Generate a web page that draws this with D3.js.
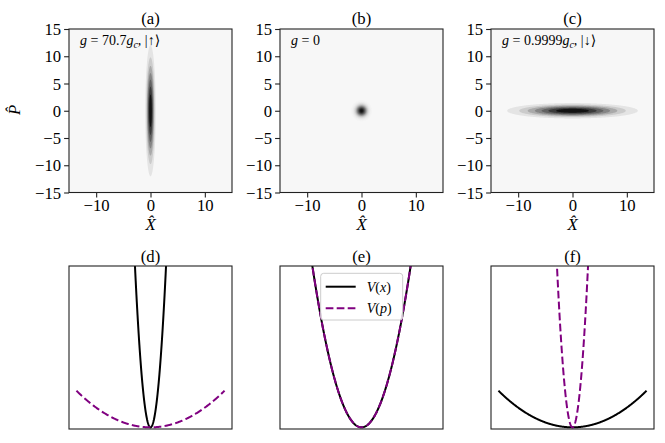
<!DOCTYPE html>
<html>
<head>
<meta charset="utf-8">
<script src="https://cdn.jsdelivr.net/npm/d3@7"></script>
<style>
  html, body { margin: 0; padding: 0; background: #ffffff; }
  svg { display: block; }
  text { font-family: "Liberation Serif", "DejaVu Serif", serif; fill: #000; }
</style>
</head>
<body>
<svg id="chart" width="665" height="443"></svg>
<script>
// ---------------- data ----------------
const topTitles = ["(a)", "(b)", "(c)"];
const bottomTitles = ["(d)", "(e)", "(f)"];
// annotation pieces: coupling value and spin state
const couplingValues = ["70.7", "0", "0.9999"];
const couplingHasGc = [true, false, true];
const spinStates = ["↑", "", "↓"];
// Gaussian Wigner-like densities: widths along X and P
const sigmaX = [0.47, 0.71, 5.9];
const sigmaP = [5.9, 0.71, 0.69];
const contourBands = [8, 40, 8];
const xTicks = [-10, 0, 10];
const yTicks = [-15, -10, -5, 0, 5, 10, 15];
const phaseDomain = [-15, 15];
// potentials: curvature of V(x) and V(p) in each lower panel
const curvVx = [100, 10, 1];
const curvVp = [1, 10, 100];
const potXRange = [-1, 1];
const potYDomain = [-0.045, 4.4];
const legendLabels = [["V", "x"], ["V", "p"]];

// ---------------- layout ----------------
const colX = [69, 280, 491];
const pw = 163;
const topY = 29, ph = 163.5;
const botY = 266, bh = 163;
const fs = 16.7;
const purple = "#800080";

const svg = d3.select("#chart");
const defs = svg.append("defs");

function label(g, x, y, str, opts = {}) {
  return g.append("text").attr("x", x).attr("y", y)
    .attr("text-anchor", opts.anchor || "middle")
    .attr("font-size", opts.size || fs)
    .attr("font-style", opts.italic ? "italic" : "normal")
    .text(str);
}

// ---------------- top row: phase-space densities ----------------
const n = 240;
topTitles.forEach((title, idx) => {
  const x0 = colX[idx];
  const g = svg.append("g");
  const xs = d3.scaleLinear().domain(phaseDomain).range([x0, x0 + pw]);
  const ys = d3.scaleLinear().domain(phaseDomain).range([topY + ph, topY]);

  const N = contourBands[idx];
  const bandColor = k => d3.interpolateGreys(1 / 16 + (k / (N - 1)) * (14 / 16));

  const clipId = "clipTop" + idx;
  defs.append("clipPath").attr("id", clipId).append("rect")
    .attr("x", x0).attr("y", topY).attr("width", pw).attr("height", ph);

  g.append("rect").attr("x", x0).attr("y", topY).attr("width", pw).attr("height", ph)
    .attr("fill", bandColor(0));

  const gx = d3.scaleLinear().domain([0, n]).range(phaseDomain);
  const gp = d3.scaleLinear().domain([0, n]).range([phaseDomain[1], phaseDomain[0]]);
  const values = new Float64Array(n * n);
  for (let j = 0; j < n; j++) {
    const p = gp(j + 0.5);
    for (let i = 0; i < n; i++) {
      const x = gx(i + 0.5);
      values[j * n + i] = Math.exp(-(x * x) / (2 * sigmaX[idx] ** 2) - (p * p) / (2 * sigmaP[idx] ** 2));
    }
  }
  const thresholds = d3.range(1, N).map(k => k / N);
  const contours = d3.contours().size([n, n]).thresholds(thresholds)(values);
  const path = d3.geoPath(d3.geoTransform({
    point: function (px, py) { this.stream.point(x0 + px * pw / n, topY + py * ph / n); }
  }));
  g.append("g").attr("clip-path", `url(#${clipId})`)
    .selectAll("path").data(contours).join("path")
    .attr("d", path)
    .attr("fill", (d, k) => bandColor(k + 1))
    .attr("stroke", "none");

  const fmt = d => d < 0 ? "\u2212" + Math.abs(d) : String(d);
  const xAxis = d3.axisBottom(xs).tickValues(xTicks).tickSize(4.9).tickPadding(4).tickFormat(fmt);
  const yAxis = d3.axisLeft(ys).tickValues(yTicks).tickSize(4.9).tickPadding(3).tickFormat(fmt);
  const ax = g.append("g").attr("transform", `translate(0,${topY + ph})`).call(xAxis);
  const ay = g.append("g").attr("transform", `translate(${x0},0)`).call(yAxis);
  [ax, ay].forEach(a => {
    a.select(".domain").remove();
    a.selectAll("line").attr("stroke", "#222").attr("stroke-width", 1.1);
    a.selectAll("text").attr("font-size", fs).attr("fill", "#000");
  });
  ax.selectAll("text").attr("dy", null).attr("y", 18);
  ay.selectAll("text").attr("dy", "0.33em");

  g.append("rect").attr("x", x0).attr("y", topY).attr("width", pw).attr("height", ph)
    .attr("fill", "none").attr("stroke", "#222").attr("stroke-width", 1.1);

  label(g, x0 + pw / 2, 24, title);

  // X-hat axis label (combining circumflex)
  label(g, x0 + pw / 2, 229.5, "X\u0302", { italic: true });

  // annotation
  const t = g.append("text").attr("x", x0 + 11).attr("y", 45).attr("font-size", 14);
  t.append("tspan").attr("font-style", "italic").text("g");
  t.append("tspan").text(" = " + couplingValues[idx]);
  if (couplingHasGc[idx]) {
    t.append("tspan").attr("font-style", "italic").text("g");
    t.append("tspan").attr("font-style", "italic").attr("font-size", 10).attr("dy", 3).text("c");
    t.append("tspan").attr("dy", -3).text(",  |" + spinStates[idx] + "\u27E9");
  }
});

// P-hat y-label on panel (a)
{
  const g = svg.append("g").attr("transform", "translate(20,110) rotate(-90)");
  label(g, 0, 0, "P\u0302", { italic: true });
}

// ---------------- bottom row: potentials ----------------
const xsPot = d3.range(potXRange[0], potXRange[1] + 1e-9, 0.005);
bottomTitles.forEach((title, idx) => {
  const x0 = colX[idx];
  const g = svg.append("g");
  const span = potXRange[1] - potXRange[0];
  const xs = d3.scaleLinear()
    .domain([potXRange[0] - 0.05 * span, potXRange[1] + 0.05 * span])
    .range([x0, x0 + pw]);
  const ys = d3.scaleLinear().domain(potYDomain).range([botY + bh, botY]);

  const clipId = "clipBot" + idx;
  defs.append("clipPath").attr("id", clipId).append("rect")
    .attr("x", x0).attr("y", botY).attr("width", pw).attr("height", bh);

  const line = d3.line().x(d => xs(d[0])).y(d => ys(d[1]));
  const cg = g.append("g").attr("clip-path", `url(#${clipId})`);
  cg.append("path").datum(xsPot.map(x => [x, curvVx[idx] * x * x]))
    .attr("d", line).attr("fill", "none").attr("stroke", "#000").attr("stroke-width", 2);
  cg.append("path").datum(xsPot.map(x => [x, curvVp[idx] * x * x]))
    .attr("d", line).attr("fill", "none").attr("stroke", purple).attr("stroke-width", 2)
    .attr("stroke-dasharray", "7.7,3.3");

  g.append("rect").attr("x", x0).attr("y", botY).attr("width", pw).attr("height", bh)
    .attr("fill", "none").attr("stroke", "#222").attr("stroke-width", 1.1);

  label(g, x0 + pw / 2, 261.5, title);

  if (idx === 1) {
    const lg = g.append("g");
    lg.append("rect").attr("x", 320.7).attr("y", 273.3).attr("width", 82).attr("height", 46.7)
      .attr("rx", 3).attr("fill", "#fff").attr("fill-opacity", 0.8)
      .attr("stroke", "#ccc").attr("stroke-width", 1);
    const rowsY = [286.7, 308.3];
    legendLabels.forEach((lab, r) => {
      const l = lg.append("line").attr("x1", 325.7).attr("x2", 355.7)
        .attr("y1", rowsY[r]).attr("y2", rowsY[r]).attr("stroke-width", 2);
      if (r === 0) l.attr("stroke", "#000");
      else l.attr("stroke", purple).attr("stroke-dasharray", "7.7,3.3");
      const t = lg.append("text").attr("x", 366.7).attr("y", rowsY[r] + 5).attr("font-size", 14);
      t.append("tspan").attr("font-style", "italic").text(lab[0]);
      t.append("tspan").text("(");
      t.append("tspan").attr("font-style", "italic").text(lab[1]);
      t.append("tspan").text(")");
    });
  }
});
</script>
</body>
</html>
